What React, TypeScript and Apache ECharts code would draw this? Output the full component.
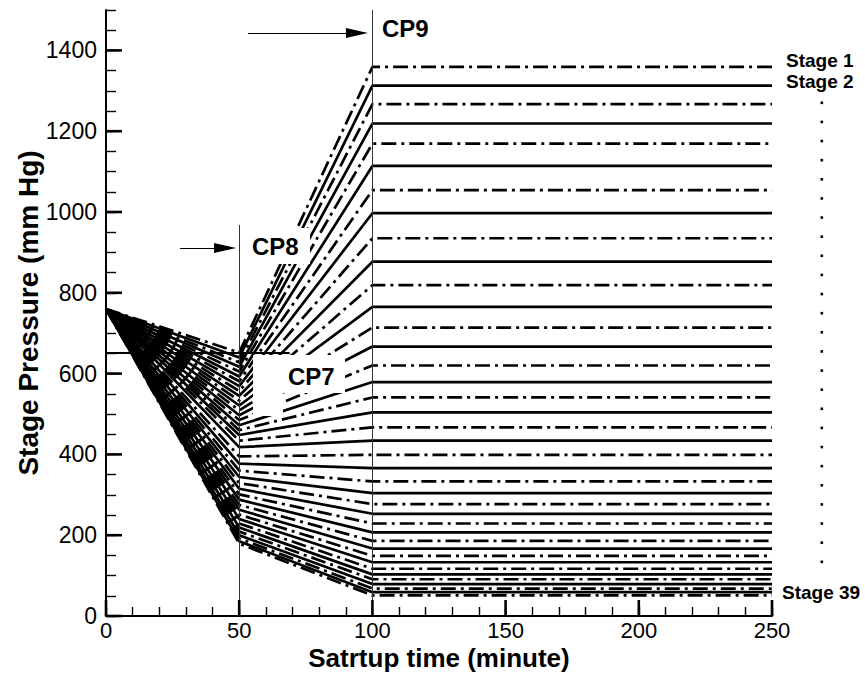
import React, { useEffect, useRef } from 'react';
import * as echarts from 'echarts';

// ---- data ----
const START_TIME = 0;
const CP8_TIME = 50;
const CP9_TIME = 100;
const END_TIME = 250;
const START_PRESSURE = 760;

// stage pressure at t = 50 min (stage 1 .. 39)
const P_AT_50 = [
  652, 640, 628, 617, 605, 593, 581, 569, 557, 545,
  533, 521, 509, 497, 485, 472, 460, 448, 434, 418,
  395, 377, 360, 344, 329, 315, 301, 288, 275, 263,
  251, 240, 229, 219, 209, 200, 192, 185, 179,
];
// stage pressure from t = 100 min onward (stage 1 .. 39)
const P_FINAL = [
  1359, 1313, 1267, 1219, 1169, 1114, 1054, 997, 935, 877,
  819, 765, 714, 667, 620, 579, 541, 504, 467, 434,
  399, 366, 333, 304, 277, 253, 229, 207, 186, 167,
  149, 133, 117, 103, 91, 79, 68, 59, 51,
];
const Y_LABELS = [0, 200, 400, 600, 800, 1000, 1200, 1400];
const X_LABELS = [0, 50, 100, 150, 200, 250];
const LABELED_STAGES = [1, 2, 39];

// annotation anchors (data units)
const CP7_LEVEL = 652;
const CP7_LINE_END = 69;
const CP8_LINE_TOP = 968;
const CP9_LINE_TOP = 1500;
const CP9_ARROW = { y: 1443, from: 53.3, to: 94.2 };
const CP8_ARROW = { y: 911, from: 27.8, to: 44.7 };
const CP7_ARROW = { x: 60.8, from: 497, to: 621 };

const FONT = '"Liberation Sans", Arial, Helvetica, sans-serif';
const MAJOR_TICK_LEN = 16;
const MAJOR_TICK_W = 2.6;

export default function App() {
  const ref = useRef<HTMLDivElement>(null);
  useEffect(() => {
    document.body.style.margin = '0';
    const chart = echarts.init(ref.current!, null, { renderer: 'svg' });

    const stageSeries = P_FINAL.map((pf, i) => {
      const stage = i + 1;
      const dashed = i % 2 === 0;
      const labeled = LABELED_STAGES.includes(stage);
      return {
        type: 'line',
        name: 'Stage ' + stage,
        silent: true,
        showSymbol: false,
        symbol: 'none',
        z: 2,
        lineStyle: {
          color: '#000',
          width: 2.7,
          type: dashed ? [15, 5, 3, 5] : 'solid',
          cap: 'butt',
        },
        endLabel: labeled
          ? {
              show: true,
              formatter: 'Stage ' + stage,
              color: '#000',
              fontSize: 19,
              fontWeight: 'bold',
              fontFamily: FONT,
              distance: stage === 39 ? 10 : 14,
              offset: [0, stage === 1 ? -6 : stage === 2 ? -4 : -3],
            }
          : undefined,
        data: [
          [START_TIME, START_PRESSURE],
          [CP8_TIME, P_AT_50[i]],
          [CP9_TIME, pf],
          [END_TIME, pf],
        ],
      };
    });

    const thin = { color: '#333', width: 1, type: 'solid' };
    const arrowLine = { color: '#000', width: 1.2, type: 'solid' };
    const head = { symbol: 'triangle', symbolSize: [10, 22] };

    const annotation = {
      type: 'line',
      data: [],
      silent: true,
      z: 70,
      markLine: {
        silent: true,
        animation: false,
        symbol: ['none', 'none'],
        label: { show: false },
        data: [
          [
            { coord: [CP9_TIME, CP9_LINE_TOP], lineStyle: thin },
            { coord: [CP9_TIME, 0] },
          ],
          [
            { coord: [CP8_TIME, CP8_LINE_TOP], lineStyle: thin },
            { coord: [CP8_TIME, 0] },
          ],
          [
            { coord: [0, CP7_LEVEL], lineStyle: { color: '#000', width: 2, type: 'solid' } },
            { coord: [CP7_LINE_END, CP7_LEVEL] },
          ],
          [
            { coord: [CP9_ARROW.from, CP9_ARROW.y], lineStyle: arrowLine, symbol: 'none' },
            { coord: [CP9_ARROW.to, CP9_ARROW.y], ...head },
          ],
          [
            { coord: [CP8_ARROW.from, CP8_ARROW.y], lineStyle: arrowLine, symbol: 'none' },
            { coord: [CP8_ARROW.to, CP8_ARROW.y], ...head },
          ],
          [
            { coord: [CP7_ARROW.x, CP7_ARROW.from], lineStyle: arrowLine, symbol: 'none' },
            { coord: [CP7_ARROW.x, CP7_ARROW.to], symbol: 'triangle', symbolSize: [11, 20] },
          ],
        ],
      },
    };

    // major ticks (longer, thicker), placed through the axis scales
    const yMajorTicks = {
      type: 'custom',
      silent: true,
      z: 80,
      clip: false,
      data: Y_LABELS.map((v) => [0, v]),
      renderItem: (_p: any, api: any) => {
        const pt = api.coord([0, api.value(1)]);
        return {
          type: 'line',
          shape: { x1: pt[0], y1: pt[1], x2: pt[0] + MAJOR_TICK_LEN, y2: pt[1] },
          style: { stroke: '#000', lineWidth: MAJOR_TICK_W },
        };
      },
    };
    const xMajorTicks = {
      type: 'custom',
      silent: true,
      z: 80,
      clip: false,
      data: X_LABELS.map((v) => [v, 0]),
      renderItem: (_p: any, api: any) => {
        const pt = api.coord([api.value(0), 0]);
        return {
          type: 'line',
          shape: { x1: pt[0], y1: pt[1], x2: pt[0], y2: pt[1] - MAJOR_TICK_LEN },
          style: { stroke: '#000', lineWidth: MAJOR_TICK_W },
        };
      },
    };

    const dots: any[] = [];
    for (let k = 0; k < 25; k++) {
      dots.push({
        type: 'rect',
        z: 60,
        shape: { x: 820.5, y: 101.5 + k * 19.125, width: 2.6, height: 2.6 },
        style: { fill: '#000' },
        silent: true,
      });
    }

    const cpText = (text: string, x: number, y: number) => ({
      type: 'text',
      z: 60,
      x,
      y,
      silent: true,
      style: {
        text,
        fill: '#000',
        fontSize: 24,
        fontWeight: 'bold',
        fontFamily: FONT,
        align: 'left',
        verticalAlign: 'middle',
      },
    });

    const option: any = {
      animation: false,
      backgroundColor: '#fff',
      grid: { left: 106, right: 93, top: 10, bottom: 59, containLabel: false, outerBoundsMode: 'none' },
      xAxis: {
        type: 'value',
        min: 0,
        max: 250,
        interval: 50,
        name: 'Satrtup time (minute)',
        nameLocation: 'middle',
        nameGap: 29,
        nameMoveOverlap: false,
        nameTextStyle: { fontSize: 26, lineHeight: 26, fontWeight: 'bold', color: '#000', fontFamily: FONT },
        axisLine: { show: true, onZero: false, lineStyle: { color: '#000', width: 2 } },
        axisTick: { show: true, inside: true, length: 9, lineStyle: { color: '#000', width: 1.4 } },
        minorTick: { show: true, splitNumber: 5, length: 9, lineStyle: { color: '#000', width: 1.4 } },
        axisLabel: {
          color: '#000',
          fontSize: 22,
          lineHeight: 20,
          fontFamily: FONT,
          margin: 4,
          formatter: (v: number) => (X_LABELS.includes(v) ? String(v) : ''),
        },
        splitLine: { show: false },
        minorSplitLine: { show: false },
      },
      yAxis: {
        type: 'value',
        min: 0,
        max: 1500,
        interval: 50,
        position: 'left',
        name: 'Stage Pressure (mm Hg)',
        nameLocation: 'middle',
        nameGap: 64,
        nameMoveOverlap: false,
        nameTextStyle: { fontSize: 28, fontWeight: 'bold', color: '#000', fontFamily: FONT },
        axisLine: { show: true, onZero: false, lineStyle: { color: '#000', width: 2 } },
        axisTick: { show: true, inside: true, length: 10, lineStyle: { color: '#000', width: 1.4 } },
        axisLabel: {
          color: '#000',
          fontSize: 23,
          lineHeight: 20,
          fontFamily: FONT,
          margin: 9,
          interval: 0,
          formatter: (v: number) => (Y_LABELS.includes(v) ? String(v) : ''),
        },
        splitLine: { show: false },
      },
      graphic: [
        // white boxes behind labels
        { type: 'rect', z: 50, silent: true, shape: { x: 250, y: 228, width: 60, height: 36 }, style: { fill: '#fff' } },
        { type: 'rect', z: 50, silent: true, shape: { x: 253, y: 355, width: 92, height: 38 }, style: { fill: '#fff' } },
        { type: 'rect', z: 50, silent: true, shape: { x: 253, y: 393, width: 30, height: 23 }, style: { fill: '#fff' } },
        cpText('CP9', 382, 28),
        cpText('CP8', 252, 246),
        cpText('CP7', 288, 376),
        ...dots,
      ],
      series: [...stageSeries, annotation, yMajorTicks, xMajorTicks],
    };

    chart.setOption(option);
    return () => chart.dispose();
  }, []);

  return <div ref={ref} style={{ width: 865, height: 675 }} />;
}
